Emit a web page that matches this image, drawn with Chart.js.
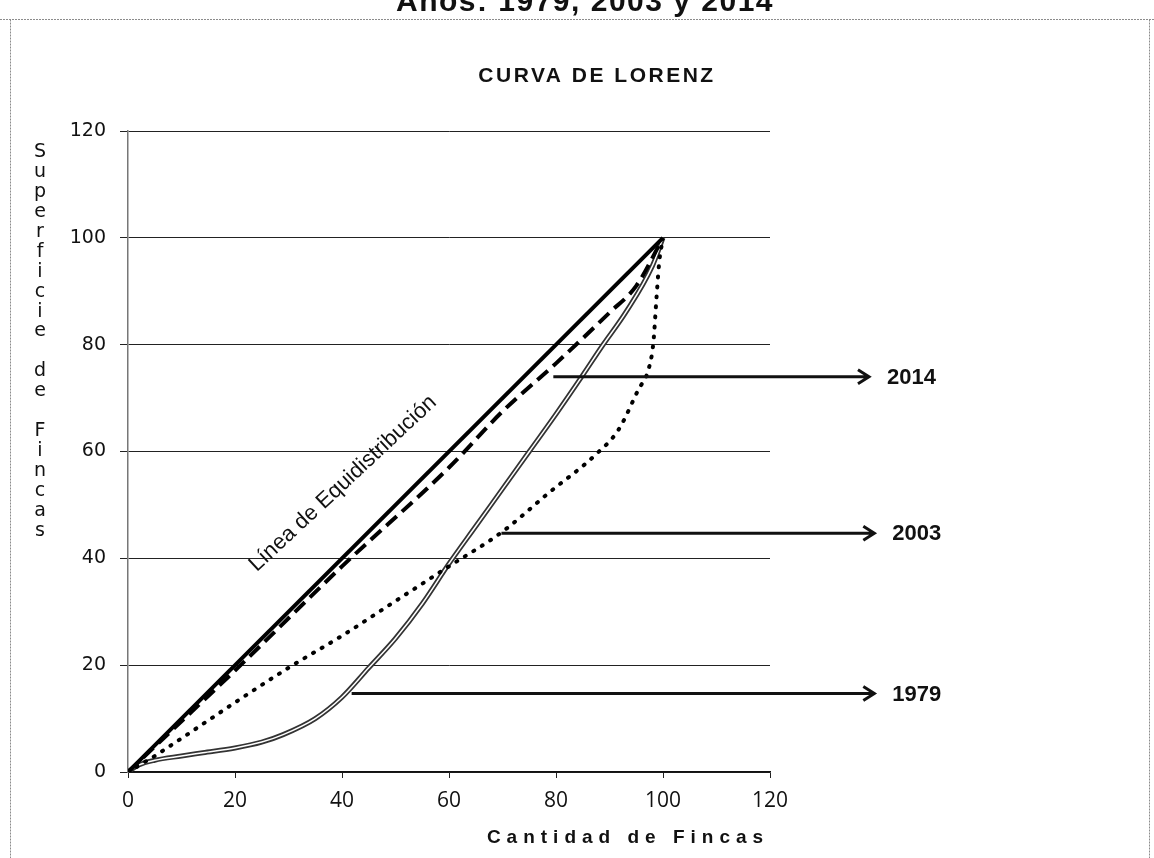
<!DOCTYPE html>
<html lang="es">
<head>
<meta charset="utf-8">
<title>Curva de Lorenz</title>
<script src="https://cdn.jsdelivr.net/npm/chart.js@4.4.1/dist/chart.umd.min.js"></script>
<style>
  html, body { margin: 0; padding: 0; background: #fff; }
  #contenedor { width: 1154px; height: 858px; position: relative; }
</style>
</head>
<body>
<div id="contenedor"><canvas id="lorenz"></canvas></div>
<script>
// Valores de los ejes
const ticksX = [0, 20, 40, 60, 80, 100, 120];
const ticksY = [0, 20, 40, 60, 80, 100, 120];

// Línea de equidistribución
const fincasEqui = [0, 100];
const superficieEqui = [0, 100];

// Curva 2014 (línea de trazos)
const fincas2014 = [0, 10, 20, 40, 60, 70, 80, 90, 95, 100];
const superficie2014 = [0, 9.5, 19, 38.5, 57, 67.5, 76.5, 86, 91, 100];

// Curva 2003 (punteada)
const fincas2003 = [0, 5, 10, 20, 30, 40, 50, 60, 70, 78.7, 87.4, 91.7, 95.4, 97.3, 98.2, 98.8, 99.3, 100];
const superficie2003 = [0, 3, 6.3, 13, 19.5, 25.5, 32, 38.5, 45, 52.3, 59.4, 64.1, 71.6, 75.4, 80.4, 89, 95.5, 100];

// Curva 1979 (línea doble)
const fincas1979 = [0, 2, 5, 10, 14, 20, 25, 29, 35, 40, 45, 50, 55, 60, 65, 70, 75, 80, 85, 88.6, 93, 98, 100];
const superficie1979 = [0, 1.3, 2.2, 3, 3.6, 4.5, 5.6, 7, 10, 14, 19.5, 25, 31.5, 39, 46, 53, 60, 67, 74.3, 79.7, 86, 94.7, 100];

// Flechas con el año de cada curva (en unidades de los ejes)
const etiquetasFlecha = ["2014", "2003", "1979"];
const flechaDesdeX = [79.5, 69.8, 41.8];
const flechaDesdeY = [74, 44.7, 14.7];
const flechaHastaX = [138.5, 139.5, 139.5];

// convierte dos listas en puntos {x, y}
function puntos(xs, ys) {
  return xs.map((x, i) => ({ x: x, y: ys[i] }));
}

// Dibujos que Chart.js no hace solo: marco, títulos, flechas, texto inclinado
const dibujoExtra = {
  id: "dibujoExtra",
  beforeDraw(chart) {
    const ctx = chart.ctx;
    ctx.save();
    ctx.strokeStyle = "#8c8c8c";
    ctx.lineWidth = 1;
    ctx.setLineDash([2, 1]);
    ctx.beginPath();
    ctx.moveTo(0, 19.5);
    ctx.lineTo(1154, 19.5);
    ctx.moveTo(10.5, 19.5);
    ctx.lineTo(10.5, 858);
    ctx.moveTo(1149.5, 19.5);
    ctx.lineTo(1149.5, 858);
    ctx.stroke();
    ctx.restore();
  },
  afterDraw(chart) {
    const ctx = chart.ctx;
    const sx = chart.scales.x;
    const sy = chart.scales.y;
    ctx.save();
    ctx.fillStyle = "#111";

    // título de arriba (cortado en el original)
    ctx.font = "bold 30px 'Liberation Sans', Arial, sans-serif";
    ctx.letterSpacing = "1.5px";
    ctx.textAlign = "center";
    ctx.textBaseline = "alphabetic";
    ctx.fillText("Años: 1979, 2003 y 2014", 585, 11);

    // título del gráfico
    ctx.font = "bold 21px 'Liberation Sans', Arial, sans-serif";
    ctx.letterSpacing = "2.5px";
    ctx.textBaseline = "middle";
    ctx.fillText("CURVA DE LORENZ", 597, 76);

    // título del eje y, letra por letra
    ctx.letterSpacing = "0px";
    ctx.font = "19px 'DejaVu Sans', Verdana, sans-serif";
    const letras = "Superficie de Fincas".split("");
    letras.forEach((l, i) => {
      if (l !== " ") ctx.fillText(l, 40, 152 + i * 19.95);
    });

    // título del eje x
    ctx.font = "bold 19px 'Liberation Sans', Arial, sans-serif";
    ctx.letterSpacing = "6px";
    ctx.fillText("Cantidad de Fincas", 628, 838);
    ctx.letterSpacing = "0px";

    // flechas con los años
    ctx.strokeStyle = "#111";
    ctx.lineWidth = 3;
    ctx.font = "bold 22px 'Liberation Sans', Arial, sans-serif";
    ctx.textAlign = "left";
    for (let i = 0; i < etiquetasFlecha.length; i++) {
      const x0 = sx.getPixelForValue(flechaDesdeX[i]);
      const x1 = sx.getPixelForValue(flechaHastaX[i]);
      const y0 = sy.getPixelForValue(flechaDesdeY[i]);
      ctx.beginPath();
      ctx.moveTo(x0, y0);
      ctx.lineTo(x1, y0);
      ctx.moveTo(x1 - 11, y0 - 7);
      ctx.lineTo(x1, y0);
      ctx.lineTo(x1 - 11, y0 + 7);
      ctx.stroke();
      ctx.fillText(etiquetasFlecha[i], x1 + 18, y0 + 1);
    }

    // texto sobre la línea de equidistribución
    ctx.font = "22px 'Liberation Sans', Arial, sans-serif";
    ctx.textAlign = "center";
    ctx.translate(sx.getPixelForValue(40.2), sy.getPixelForValue(54));
    ctx.rotate(-43 * Math.PI / 180);
    ctx.fillText("Línea de Equidistribución", 0, 0);
    ctx.restore();
  }
};

const config = {
  type: "scatter",
  data: {
    datasets: [
      {
        label: "Línea de Equidistribución",
        data: puntos(fincasEqui, superficieEqui),
        showLine: true,
        borderColor: "#000",
        borderWidth: 4,
        pointRadius: 0,
        order: 1,
      },
      {
        label: "2014",
        data: puntos(fincas2014, superficie2014),
        showLine: true,
        borderColor: "#000",
        borderWidth: 4,
        borderDash: [14, 7],
        cubicInterpolationMode: "monotone",
        pointRadius: 0,
        order: 2,
      },
      {
        label: "2003",
        data: puntos(fincas2003, superficie2003),
        showLine: true,
        borderColor: "#000",
        borderWidth: 4,
        borderDash: [1, 9],
        borderCapStyle: "round",
        cubicInterpolationMode: "monotone",
        pointRadius: 0,
        order: 3,
      },
      {
        label: "1979 (interior)",
        data: puntos(fincas1979, superficie1979),
        showLine: true,
        borderColor: "#fff",
        borderWidth: 1.5,
        cubicInterpolationMode: "monotone",
        pointRadius: 0,
        order: 4,
      },
      {
        label: "1979",
        data: puntos(fincas1979, superficie1979),
        showLine: true,
        borderColor: "#333",
        borderWidth: 5,
        cubicInterpolationMode: "monotone",
        pointRadius: 0,
        order: 5,
      },
    ],
  },
  options: {
    responsive: true,
    maintainAspectRatio: false,
    animation: false,
    layout: {
      padding: { left: 0, right: 384, top: 131, bottom: 0 },
    },
    plugins: {
      legend: { display: false },
      tooltip: { enabled: false },
      title: { display: false },
    },
    scales: {
      x: {
        type: "linear",
        min: ticksX[0],
        max: ticksX[ticksX.length - 1],
        afterBuildTicks: (scale) => {
          scale.ticks = ticksX.map((v) => ({ value: v }));
        },
        afterFit: (scale) => {
          scale.height = 86;
        },
        grid: {
          drawOnChartArea: false,
          drawTicks: true,
          tickLength: 6,
          color: "#222",
        },
        border: { color: "#111", width: 1.5 },
        ticks: {
          color: "#111",
          padding: 10,
          font: { family: "'Open Sans', sans-serif", size: 21 },
        },
      },
      y: {
        type: "linear",
        min: ticksY[0],
        max: ticksY[ticksY.length - 1],
        afterBuildTicks: (scale) => {
          scale.ticks = ticksY.map((v) => ({ value: v }));
        },
        afterFit: (scale) => {
          scale.width = 128;
        },
        grid: {
          color: "#222",
          lineWidth: 1,
          tickLength: 8,
        },
        border: { color: "#777", width: 1.5 },
        ticks: {
          color: "#111",
          padding: 14,
          font: { family: "'DejaVu Sans', Verdana, sans-serif", size: 19 },
        },
      },
    },
  },
  plugins: [dibujoExtra],
};

new Chart(document.querySelector("#lorenz"), config);
</script>
</body>
</html>
